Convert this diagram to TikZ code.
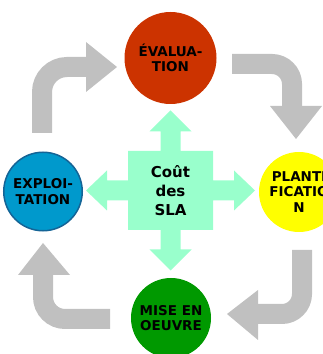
\documentclass[tikz,border=0pt]{standalone}
\usepackage{fontspec}
\setmainfont{DejaVu Sans}
\usepackage{xcolor}
\definecolor{evalred}{HTML}{CC3300}
\definecolor{exploblue}{HTML}{0099CC}
\definecolor{explorim}{HTML}{146496}
\definecolor{planyellow}{HTML}{FFFF00}
\definecolor{misegreen}{HTML}{009900}
\definecolor{costmint}{HTML}{99FFCC}
\definecolor{cyclegray}{HTML}{C0C0C0}

\begin{document}
\begin{tikzpicture}[x=1pt,y=1pt,
    phase/.style={circle, inner sep=0pt, align=center,
        font=\bfseries\fontsize{13.5}{15.5}\selectfont},
    shaft/.style={draw=cyclegray, line width=20pt},
    tip/.style={fill=cyclegray}]
            \useasboundingbox (0,0) rectangle (322,354);
            % gray cycle arrows
            \draw[shaft] (42,221) -- (42,262) arc[start angle=180, end angle=90, radius=25] -- (86,287);
            \fill[tip] (86,312) -- (117,287) -- (86,262) -- cycle;
            \draw[shaft] (232,290) -- (272,290) arc[start angle=90, end angle=0, radius=20] -- (292,248);
            \fill[tip] (270,248) -- (322,248) -- (296,215) -- cycle;
            \draw[shaft] (302,104) -- (302,60) arc[start angle=0, end angle=-90, radius=20] -- (258,40);
            \fill[tip] (258,64) -- (258,14) -- (227,40) -- cycle;
            \draw[shaft] (110,35) -- (65,35) arc[start angle=270, end angle=180, radius=22] -- (43,79);
            \fill[tip] (18,79) -- (70,79) -- (43,111) -- cycle;
            % cross of the costs
            \coordinate (c) at (170.5,163.5);
            \fill[costmint, shift={(c)}] (0,80) -- (21,59) -- (10,59) -- (10,39.5) -- (42.5,39.5)
                -- (42.5,10) -- (63.5,10) -- (63.5,20) -- (84.5,0) -- (63.5,-20) -- (63.5,-10)
                -- (42.5,-10) -- (42.5,-39.5) -- (10,-39.5) -- (10,-59) -- (21,-59) -- (0,-80)
                -- (-21,-59) -- (-10,-59) -- (-10,-39.5) -- (-42.5,-39.5) -- (-42.5,-10)
                -- (-63.5,-10) -- (-63.5,-20) -- (-84.5,0) -- (-63.5,20) -- (-63.5,10)
                -- (-42.5,10) -- (-42.5,39.5) -- (-10,39.5) -- (-10,59) -- (-21,59) -- cycle;
            \node[align=center, inner sep=0pt, font=\bfseries\fontsize{15}{19}\selectfont] (cout) at (c) {Coût\\des\\SLA};
            % phases
            \node[phase, fill=evalred, minimum size=92pt] (eval) at (170.5,296) {ÉVALUA-\\TION};
            \node[phase, fill=exploblue, draw=explorim, line width=1.5pt, minimum size=78.5pt] (explo) at (43,162.5) {EXPLOI-\\TATION};
            \node[phase, fill=planyellow, minimum size=80pt] (plan) at (299,162) {PLANTI\\FICATIO\\N};
            \node[phase, fill=misegreen, minimum size=80pt] (mise) at (171,36) {MISE EN\\OEUVRE};
        \end{tikzpicture}
\end{document}
